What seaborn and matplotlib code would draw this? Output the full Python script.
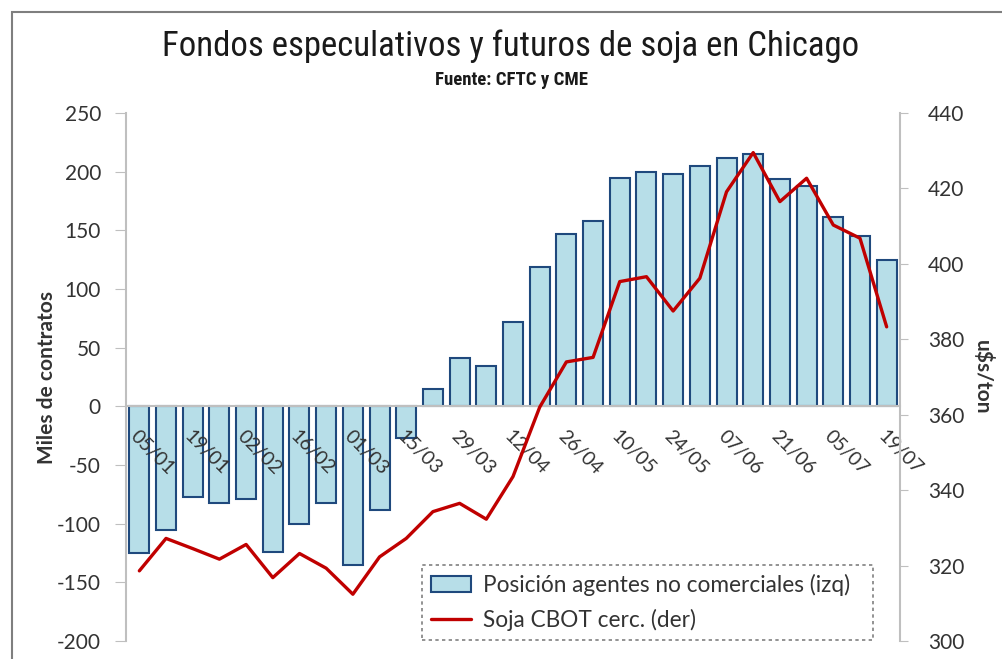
import numpy as np
import pandas as pd
import seaborn as sns
import matplotlib.pyplot as plt
from matplotlib.patches import Rectangle, Patch
from matplotlib.lines import Line2D
from matplotlib.ticker import FixedLocator
from matplotlib import font_manager

# weekly data, 05/01 to 19/07
fechas = ["05/01", "12/01", "19/01", "26/01", "02/02", "09/02", "16/02", "23/02",
          "01/03", "08/03", "15/03", "22/03", "29/03", "05/04", "12/04", "19/04",
          "26/04", "03/05", "10/05", "17/05", "24/05", "31/05", "07/06", "14/06",
          "21/06", "28/06", "05/07", "12/07", "19/07"]
# miles de contratos (left axis)
posicion = [-125, -105, -77, -82, -79, -124, -100, -82, -135, -88, -27, 15, 41, 34,
            72, 119, 147, 158, 195, 200, 198, 205, 212, 215, 194, 188, 161, 145, 125]
# u$s/ton (right axis)
soja = [318.6, 327.2, 324.5, 321.7, 325.6, 316.8, 323.2, 319.3, 312.4, 322.3, 327.2,
        334.3, 336.5, 332.3, 343.6, 362.0, 374.0, 375.2, 395.3, 396.6, 387.5, 396.2,
        419.1, 429.5, 416.5, 422.7, 410.3, 406.8, 383.3]

df = pd.DataFrame({"fecha": fechas, "posicion": posicion, "soja": soja})
df["i"] = np.arange(len(df))

sns.set_style("white")
plt.rcParams["font.family"] = ["Lato", "DejaVu Sans"]
plt.rcParams["axes.unicode_minus"] = False

nombres = {f.name for f in font_manager.fontManager.ttflist}
angosta = [n for n in ["Roboto Condensed", "Liberation Sans Narrow", "Roboto"]
           if n in nombres] + ["DejaVu Sans"]

gris = "#BFBFBF"
texto = "#333333"
azul_claro = "#B7DEE8"
azul = "#1F497D"
rojo = "#C00000"

fig = plt.figure(figsize=(10.02, 6.59), dpi=100)
ax = fig.add_axes([126 / 1002, 1 - 641 / 659, 774 / 1002, 528 / 659])

sns.barplot(data=df, x="fecha", y="posicion", order=fechas, color=azul_claro,
            saturation=1, edgecolor=azul, linewidth=1.5, width=0.75,
            errorbar=None, ax=ax)
ax.set_axisbelow(False)

ax2 = ax.twinx()
sns.lineplot(data=df, x="i", y="soja", color=rojo, linewidth=2.4, ax=ax2)

ax.set_xlim(-0.5, len(fechas) - 0.5)
ax.set_ylim(-200, 250)
ax.set_yticks(range(-200, 251, 50))
ax2.set_ylim(300, 440)
ax2.set_yticks(range(300, 441, 20))

# category axis sits on the zero line
ax.spines["bottom"].set_position(("data", 0))
ax.set_xticks(range(0, len(fechas), 2))
ax.set_xticklabels(fechas[::2], rotation=-45, ha="left", va="top",
                   rotation_mode="anchor", fontsize=14, color=texto)
ax.xaxis.set_minor_locator(FixedLocator(np.arange(0.5, len(fechas) - 1, 1)))
ax.tick_params(axis="x", which="major", length=0, pad=15)
ax.tick_params(axis="x", which="minor", length=5, color=gris, direction="out")
ax.tick_params(axis="y", length=8, color=gris, labelsize=15, labelcolor=texto, pad=10,
               left=True)
ax2.tick_params(axis="y", length=6, color=gris, labelsize=15, labelcolor=texto, pad=14,
                right=True)

for s in ["top", "right"]:
    ax.spines[s].set_visible(False)
for s in ["top", "left", "bottom"]:
    ax2.spines[s].set_visible(False)
ax.spines["left"].set_color(gris)
ax.spines["bottom"].set_color(gris)
ax2.spines["right"].set_color(gris)
for s in [ax.spines["left"], ax.spines["bottom"], ax2.spines["right"]]:
    s.set_linewidth(1.5)

ax.set_xlabel("")
ax.set_ylabel("Miles de contratos", fontsize=15, fontweight="bold", color=texto,
              labelpad=0)
ax2.set_xlabel("")
ax2.set_ylabel("u$s/ton", fontsize=15, fontweight="bold", color=texto, rotation=270,
               labelpad=21)
ax2.set_xlim(-0.5, len(fechas) - 0.5)

handles = [Patch(facecolor=azul_claro, edgecolor=azul, linewidth=1.5),
           Line2D([0], [0], color=rojo, linewidth=2.4)]
labels = ["Posición agentes no comerciales (izq)", "Soja CBOT cerc. (der)"]
leg = ax2.legend(handles, labels, loc="lower left",
                 bbox_to_anchor=(0.382, 0.002, 0.583, 0.142), mode="expand",
                 borderaxespad=0, fancybox=False, fontsize=16.3, framealpha=1,
                 handlelength=1.8, handletextpad=0.5, labelspacing=0.55)
leg.get_frame().set_edgecolor("#808080")
leg.get_frame().set_linestyle((0, (2, 2)))
leg.get_frame().set_linewidth(1.2)
for t in leg.get_texts():
    t.set_color(texto)

fig.text(0.51, 1 - 46 / 659, "Fondos especulativos y futuros de soja en Chicago",
         ha="center", va="center", fontsize=25, color="#1a1a1a", family=angosta)
fig.text(0.51, 1 - 80 / 659, "Fuente: CFTC y CME", ha="center", va="center",
         fontsize=13.5, fontweight="bold", color="#1a1a1a", family=angosta)

# chart frame, running off the right and bottom edges
fig.patches.append(Rectangle((12 / 1002, -0.1), 1.1, 1.1 - 12 / 659,
                             transform=fig.transFigure, fill=False,
                             edgecolor="#7F7F7F", linewidth=1.5))

fig.savefig("out.png", dpi=100)
